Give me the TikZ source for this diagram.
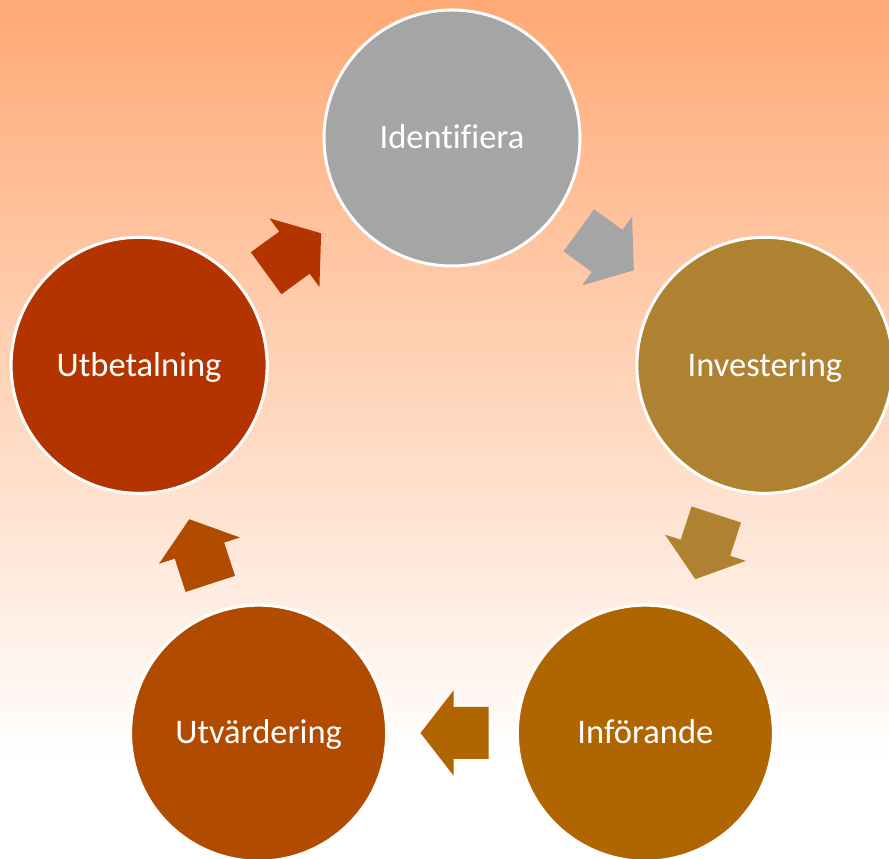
\documentclass[tikz,border=0pt]{standalone}
\usepackage{fontspec}
\setmainfont{Carlito}[Ligatures=NoCommon]
\usetikzlibrary{calc}
\definecolor{bgtop}{RGB}{255,169,116}
\definecolor{cA}{RGB}{165,165,165}
\definecolor{cB}{RGB}{175,130,50}
\definecolor{cC}{RGB}{175,101,0}
\definecolor{cD}{RGB}{177,75,0}
\definecolor{cE}{RGB}{180,52,0}
\tikzset{
  stage/.style={circle, draw=white, line width=3pt, minimum size=256pt, inner sep=0pt,
    text=white, font=\fontsize{34.5}{40}\selectfont, text height=29pt, text depth=7.4pt},
  blockarrow/.pic={\fill[#1] (-36.5,-26) -- (-1.5,-26) -- (-1.5,-42.5) -- (31.5,0) -- (-1.5,42.5) -- (-1.5,26) -- (-36.5,26) -- cycle;}
}
\begin{document}
\begin{tikzpicture}[x=1pt,y=1pt]
\useasboundingbox (0,0) rectangle (889,859);
\shade[top color=bgtop, bottom color=white] (0,99) rectangle (889,859);
\fill[white] (0,0) rectangle (889,99.5);
\coordinate (O) at (452,392);
\node[stage, fill=cA] (A) at ($(O)+(90:329)$) {Identifiera};
\node[stage, fill=cB] (B) at ($(O)+(18:329)$) {Investering};
\node[stage, fill=cC] (C) at ($(O)+(-54:329)$) {Införande};
\node[stage, fill=cD] (D) at ($(O)+(-126:329)$) {Utvärdering};
\node[stage, fill=cE] (E) at ($(O)+(162:329)$) {Utbetalning};
\pic[rotate=-36] at ($(O)+(54:266)$) {blockarrow=cA};
\pic[rotate=-108] at ($(O)+(-18:266)$) {blockarrow=cB};
\pic[rotate=180] at ($(O)+(-90:266)$) {blockarrow=cC};
\pic[rotate=108] at ($(O)+(-162:266)$) {blockarrow=cD};
\pic[rotate=36] at ($(O)+(126:266)$) {blockarrow=cE};
\end{tikzpicture}
\end{document}
